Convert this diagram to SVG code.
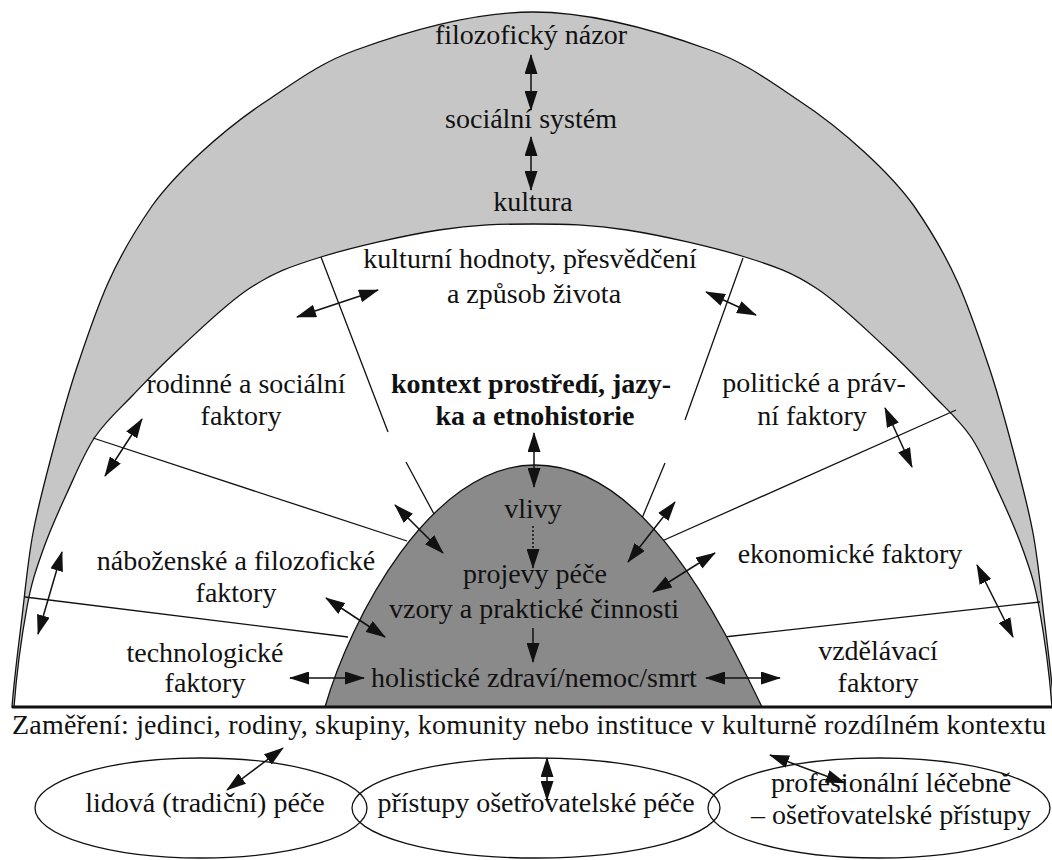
<svg xmlns="http://www.w3.org/2000/svg" width="1052" height="860" viewBox="0 0 1052 860">
<defs>
<style>
.t{font-size:28px;fill:#111;text-anchor:middle}
.b{font-weight:bold}
.ln{stroke:#111;stroke-width:1.3;fill:none}
.arr{stroke:#111;stroke-width:1.5;fill:none;marker-start:url(#ah);marker-end:url(#ah)}
.one{stroke:#111;stroke-width:1.5;fill:none;marker-end:url(#ah)}
.edge{stroke:#111;stroke-width:1.3}
</style>
<marker id="ah" viewBox="0 0 20 13" refX="19" refY="6.5" markerWidth="20" markerHeight="13" markerUnits="userSpaceOnUse" orient="auto-start-reverse">
<path d="M0,0 L20,6.5 L0,13 z" fill="#111"/>
</marker>
</defs>
<rect width="1052" height="860" fill="#fff"/>

<g id="outer-arch">
<path class="edge" fill="#c6c6c6" d="M12,707 C14,680 18.5,646 22,617 C25.5,588 27.8,560.8 33,533 C38.2,505.2 45.7,477.7 53,450 C60.3,422.3 67.5,395.3 77,367 C86.5,338.7 96,310 108,283 C121,254 134,232 152,206 C175,174 222,130 268,100 C298,80 322,62 356,50 C400,34 470,12 533,12 C596,12 666,34 710,50 C744,62 768,80 798,100 C844,130 891,174 914,206 C932,232 945,254 958,283 C970,310 979.5,338.7 989,367 C998.5,395.3 1005.7,422.3 1013,450 C1020.3,477.7 1027.8,505.2 1033,533 C1038.2,560.8 1040.5,588 1044,617 C1047.5,646 1052,680 1054,707 Z"/>
<text class="t" font-family="Liberation Serif" style="font-family:'Liberation Serif',serif" x="531" y="44">filozofický názor</text>
<text class="t" font-family="Liberation Serif" style="font-family:'Liberation Serif',serif" x="531" y="128">sociální systém</text>
<text class="t" font-family="Liberation Serif" style="font-family:'Liberation Serif',serif" x="533" y="211">kultura</text>
</g>

<g id="inner-arch">
<path class="edge" fill="#fff" d="M14,707 C16.5,674.8 22.2,633.2 27,607 C31.8,580.8 36.3,569 43,550 C49.7,531 58.3,511.8 67,493 C75.7,474.2 84,453.3 95,437 C106,420.7 118.8,409.8 133,395 C147.2,380.2 160.5,365.8 180,348 C199.5,330.2 226.5,303.2 250,288 C273.5,272.8 289.5,266.7 321,257 C352.5,247.3 403.7,235.5 439,230 C474.3,224.5 501.7,224 533,224 C564.3,224 591.7,224.5 627,230 C662.3,235.5 713.5,247.3 745,257 C776.5,266.7 792.5,272.8 816,288 C839.5,303.2 866.5,330.2 886,348 C905.5,365.8 918.8,380.2 933,395 C947.2,409.8 960,420.7 971,437 C982,453.3 990.3,474.2 999,493 C1007.7,511.8 1016.3,531 1023,550 C1029.7,569 1034.2,580.8 1039,607 C1043.8,633.2 1049.5,674.8 1052,707 Z"/>
</g>

<g id="sectors">
<path class="ln" d="M321,257 L388,432 M406,462 L434,514"/>
<path class="ln" d="M743,258 L685,420 M665,463 L640,523"/>
<path class="ln" d="M93,438 L407,541"/>
<path class="ln" d="M956,410 L662,541"/>
<path class="ln" d="M25,597 L348,637"/>
<path class="ln" d="M1040,602 L724,637"/>
</g>

<g id="dome">
<path class="edge" fill="#8a8a8a" d="M325,707 C350,620 430,465 535,465 C645,465 720,620 762,707 Z"/>
<text class="t" font-family="Liberation Serif" style="font-family:'Liberation Serif',serif" x="533" y="518">vlivy</text>
<text class="t" font-family="Liberation Serif" style="font-family:'Liberation Serif',serif" x="535" y="583">projevy péče</text>
<text class="t" font-family="Liberation Serif" style="font-family:'Liberation Serif',serif" x="534" y="618">vzory a praktické činnosti</text>
<text class="t" font-family="Liberation Serif" style="font-family:'Liberation Serif',serif" x="534" y="687">holistické zdraví/nemoc/smrt</text>
</g>

<g id="base-line">
<line x1="12" y1="707" x2="1052" y2="707" stroke="#111" stroke-width="3"/>
</g>

<g id="label-hodnoty">
<text class="t" font-family="Liberation Serif" style="font-family:'Liberation Serif',serif" x="530" y="268">kulturní hodnoty, přesvědčení</text>
<text class="t" font-family="Liberation Serif" style="font-family:'Liberation Serif',serif" x="534" y="303">a způsob života</text>
</g>
<g id="label-kontext">
<text class="t b" font-family="Liberation Serif" style="font-family:'Liberation Serif',serif" x="531" y="393">kontext prostředí, jazy-</text>
<text class="t b" font-family="Liberation Serif" style="font-family:'Liberation Serif',serif" x="535" y="425">ka a etnohistorie</text>
</g>
<g id="label-rodinne">
<text class="t" font-family="Liberation Serif" style="font-family:'Liberation Serif',serif" x="246" y="393">rodinné a sociální</text>
<text class="t" font-family="Liberation Serif" style="font-family:'Liberation Serif',serif" x="241" y="425">faktory</text>
</g>
<g id="label-politicke">
<text class="t" font-family="Liberation Serif" style="font-family:'Liberation Serif',serif" x="814" y="392">politické a práv-</text>
<text class="t" font-family="Liberation Serif" style="font-family:'Liberation Serif',serif" x="812" y="425">ní faktory</text>
</g>
<g id="label-nabozenske">
<text class="t" font-family="Liberation Serif" style="font-family:'Liberation Serif',serif" x="236" y="570">náboženské a filozofické</text>
<text class="t" font-family="Liberation Serif" style="font-family:'Liberation Serif',serif" x="236" y="602">faktory</text>
</g>
<g id="label-ekonomicke">
<text class="t" font-family="Liberation Serif" style="font-family:'Liberation Serif',serif" x="850" y="563">ekonomické faktory</text>
</g>
<g id="label-technologicke">
<text class="t" font-family="Liberation Serif" style="font-family:'Liberation Serif',serif" x="205" y="662">technologické</text>
<text class="t" font-family="Liberation Serif" style="font-family:'Liberation Serif',serif" x="205" y="692">faktory</text>
</g>
<g id="label-vzdelavaci">
<text class="t" font-family="Liberation Serif" style="font-family:'Liberation Serif',serif" x="878" y="660">vzdělávací</text>
<text class="t" font-family="Liberation Serif" style="font-family:'Liberation Serif',serif" x="878" y="692">faktory</text>
</g>
<g id="label-zamereni">
<text class="t" font-family="Liberation Serif" style="font-family:'Liberation Serif',serif" x="529" y="734" textLength="1034" lengthAdjust="spacing">Zaměření: jedinci, rodiny, skupiny, komunity nebo instituce v kulturně rozdílném kontextu</text>
</g>

<g id="ellipse-lidova">
<ellipse cx="201" cy="808" rx="166" ry="50" fill="none" class="edge"/>
<text class="t" font-family="Liberation Serif" style="font-family:'Liberation Serif',serif" x="205" y="812">lidová (tradiční) péče</text>
</g>
<g id="ellipse-pristupy">
<ellipse cx="536" cy="808" rx="184" ry="50" fill="none" class="edge"/>
<text class="t" font-family="Liberation Serif" style="font-family:'Liberation Serif',serif" x="536" y="812">přístupy ošetřovatelské péče</text>
</g>
<g id="ellipse-profesionalni">
<ellipse cx="879" cy="808" rx="171" ry="50" fill="none" class="edge"/>
<text class="t" font-family="Liberation Serif" style="font-family:'Liberation Serif',serif" x="891" y="792">profesionální léčebně</text>
<text class="t" font-family="Liberation Serif" style="font-family:'Liberation Serif',serif" x="891" y="824">– ošetřovatelské přístupy</text>
</g>

<g id="connectors">
<line class="arr" x1="531" y1="55" x2="531" y2="110"/>
<line class="arr" x1="531" y1="137" x2="531" y2="190"/>
<line class="arr" x1="297" y1="317" x2="378" y2="290"/>
<line class="arr" x1="706" y1="292" x2="756" y2="315"/>
<line class="arr" x1="142" y1="419" x2="105" y2="476"/>
<line class="arr" x1="885" y1="408" x2="912" y2="467"/>
<line class="arr" x1="534" y1="433" x2="534" y2="487"/>
<line class="arr" x1="395" y1="505" x2="443" y2="553"/>
<line class="arr" x1="675" y1="502" x2="628" y2="562"/>
<line class="arr" x1="715" y1="553" x2="653" y2="592"/>
<line class="arr" x1="326" y1="598" x2="385" y2="637"/>
<line class="arr" x1="62" y1="552" x2="38" y2="634"/>
<line class="arr" x1="977" y1="565" x2="1013" y2="637"/>
<line class="arr" x1="290" y1="678" x2="364" y2="678"/>
<line class="arr" x1="706" y1="678" x2="780" y2="678"/>
<line class="arr" x1="283" y1="748" x2="227" y2="790"/>
<line class="arr" x1="547" y1="758" x2="547" y2="800"/>
<line class="arr" x1="770" y1="755" x2="845" y2="783"/>
<line class="one" x1="533" y1="526" x2="533" y2="568" stroke-dasharray="2,2"/>
<line class="one" x1="533" y1="628" x2="533" y2="662"/>
</g>
</svg>
